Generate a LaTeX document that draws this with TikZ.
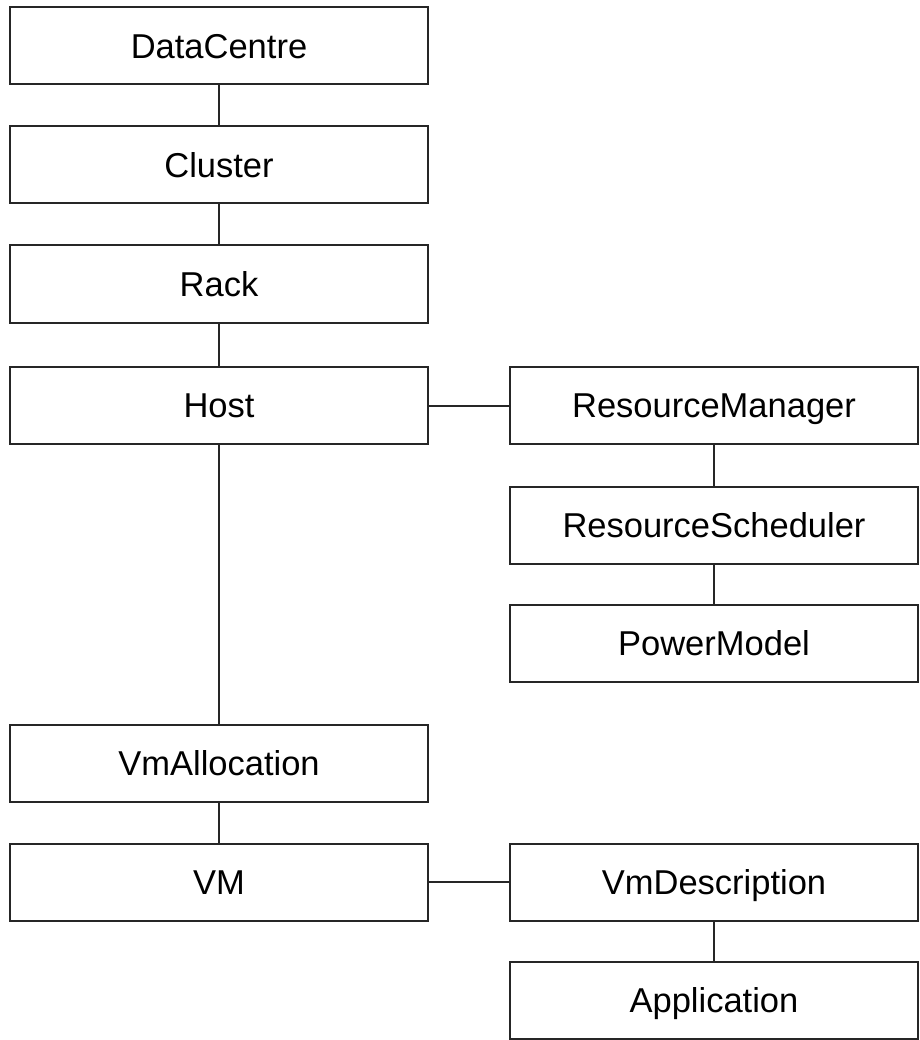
\documentclass[tikz,border=0pt]{standalone}
\usepackage{fontspec}
\setmainfont{Liberation Sans}
\usetikzlibrary{positioning}
\tikzset{
    block/.style = {
        draw=black!85,
        shape=rectangle,
        inner sep=0pt,
        outer sep=0pt,
        minimum height=77pt,
        minimum width=418pt,
        text height=24.5pt,
        text depth=0pt,
        line width=2pt,
        font=\fontsize{34.5}{40}\selectfont
    },
    side/.style = {
        block,
        minimum width=408pt
    },
    link/.style = {
        draw=black!85,
        line width=2pt
    },
}

\begin{document}
\begin{tikzpicture}[x=1pt,y=-1pt]
            \useasboundingbox (0,0) rectangle (919,1040);

            \node[block] (dc) at (219,46) {DataCentre};
            \node[block] (cluster) at (219,165) {Cluster};
            \node[block] (rack) at (219,284) {Rack};
            \node[block] (host) at (219,405.5) {Host};
            \node[block] (alloc) at (219,763) {VmAllocation};
            \node[block] (vm) at (219,882) {VM};

            \node[side] (resman) at (714,405.5) {ResourceManager};
            \node[side] (sched) at (714,525) {ResourceScheduler};
            \node[side] (power) at (714,643.5) {PowerModel};
            \node[side] (vmdesc) at (714,882) {VmDescription};
            \node[side] (app) at (714,1000.5) {Application};

            \path[link] (dc) -- (cluster);
            \path[link] (cluster) -- (rack);
            \path[link] (rack) -- (host);
            \path[link] (host) -- (alloc);
            \path[link] (alloc) -- (vm);
            \path[link] (host) -- (resman);
            \path[link] (resman) -- (sched);
            \path[link] (sched) -- (power);
            \path[link] (vm) -- (vmdesc);
            \path[link] (vmdesc) -- (app);
        \end{tikzpicture}
\end{document}
